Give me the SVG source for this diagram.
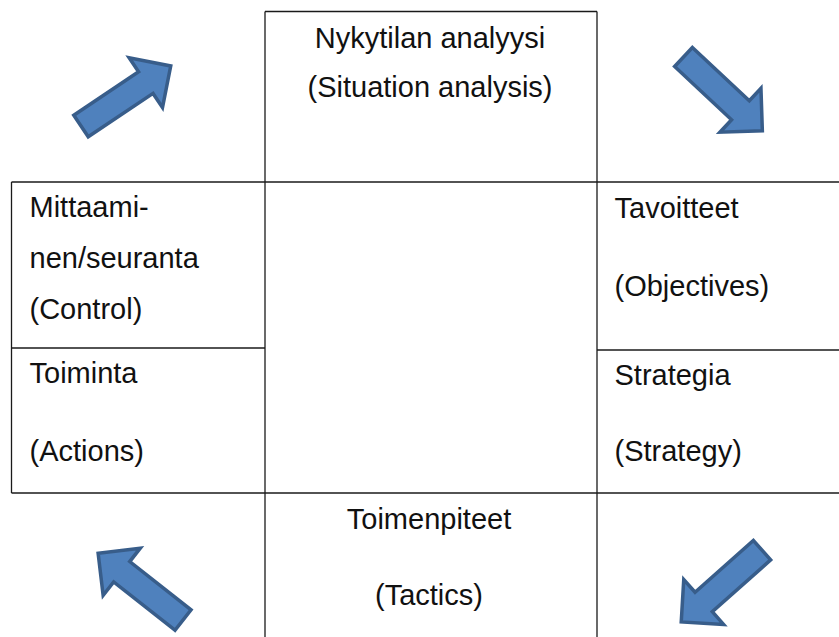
<svg xmlns="http://www.w3.org/2000/svg" width="839" height="637" viewBox="0 0 839 637">
<style>
.ln{stroke:#1a1a1a;stroke-width:1.3;fill:none}
.t{font-family:"Liberation Sans",Arial,sans-serif;font-size:29px;fill:#111}
.c{text-anchor:middle}
.arr{fill:#4F81BD;stroke:#385D8A;stroke-width:3.5;stroke-linejoin:miter}
</style>
<defs>
<path id="blk" d="M0,-13 L78,-13 L78,-30 L108,0 L78,30 L78,13 L0,13 Z"/>
</defs>
<rect width="839" height="637" fill="#fff"/>
<g id="connectors">
<use href="#blk" class="arr" transform="translate(81,126) rotate(-33.8)"/>
<use href="#blk" class="arr" transform="translate(683.5,57) rotate(43.1)"/>
<use href="#blk" class="arr" transform="translate(183,620) rotate(-141.8)"/>
<use href="#blk" class="arr" transform="translate(762,550.2) rotate(138.4)"/>
</g>
<g id="grid">
<line class="ln" x1="265" y1="11.5" x2="265" y2="637"/>
<line class="ln" x1="597" y1="11.5" x2="597" y2="637"/>
<line class="ln" x1="265" y1="11.5" x2="597" y2="11.5"/>
<line class="ln" x1="11.5" y1="182" x2="839" y2="182"/>
<line class="ln" x1="11.5" y1="493" x2="839" y2="493"/>
<line class="ln" x1="11.5" y1="182" x2="11.5" y2="493"/>
</g>
<g id="situation">
<text class="t c" x="430" y="48">Nykytilan analyysi</text>
<text class="t c" x="430" y="97">(Situation analysis)</text>
</g>
<g id="control">
<line class="ln" x1="11.5" y1="348" x2="265" y2="348"/>
<text class="t" x="29.5" y="217">Mittaami-</text>
<text class="t" x="29.5" y="268">nen/seuranta</text>
<text class="t" x="29.5" y="318.5">(Control)</text>
</g>
<g id="actions">
<text class="t" x="29.5" y="383">Toiminta</text>
<text class="t" x="29.5" y="461">(Actions)</text>
</g>
<g id="objectives">
<line class="ln" x1="597" y1="350" x2="839" y2="350"/>
<text class="t" x="614.5" y="218">Tavoitteet</text>
<text class="t" x="614.5" y="296">(Objectives)</text>
</g>
<g id="strategy">
<text class="t" x="614.5" y="384.5">Strategia</text>
<text class="t" x="614.5" y="461">(Strategy)</text>
</g>
<g id="tactics">
<text class="t c" x="429" y="528.5">Toimenpiteet</text>
<text class="t c" x="429" y="605">(Tactics)</text>
</g>
</svg>
